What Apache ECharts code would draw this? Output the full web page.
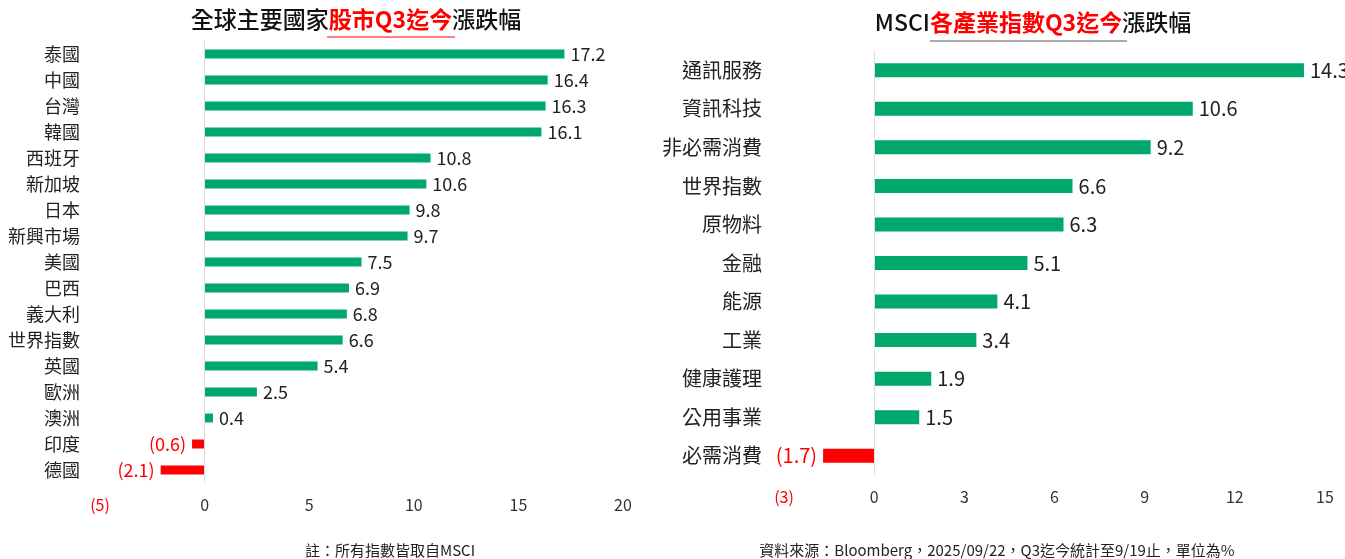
<!DOCTYPE html>
<html>
<head>
<meta charset="utf-8">
<script src="https://cdn.jsdelivr.net/npm/echarts@6/dist/echarts.min.js"></script>
<style>body{margin:0}#c{width:1345px;height:559px}</style>
</head>
<body>
<div id="c"></div>
<script>
// 左：全球主要國家
var countryNames = ['泰國','中國','台灣','韓國','西班牙','新加坡','日本','新興市場','美國','巴西','義大利','世界指數','英國','歐洲','澳洲','印度','德國'];
var countryValues = [17.2,16.4,16.3,16.1,10.8,10.6,9.8,9.7,7.5,6.9,6.8,6.6,5.4,2.5,0.4,-0.6,-2.1];
// 右：MSCI 產業
var sectorNames = ['通訊服務','資訊科技','非必需消費','世界指數','原物料','金融','能源','工業','健康護理','公用事業','必需消費'];
var sectorValues = [14.3,10.6,9.2,6.6,6.3,5.1,4.1,3.4,1.9,1.5,-1.7];

var GREEN = '#00a86b', RED = '#ff0000';
var font = '"Noto Sans CJK TC", "Noto Sans", sans-serif';

function fmt(v){ return v < 0 ? '(' + Math.abs(v).toFixed(1) + ')' : v.toFixed(1); }

function barData(vals, fs){
    return vals.map(function(v){
        return {
            value: v,
            itemStyle: {color: v < 0 ? RED : GREEN},
            label: {show: true, position: v < 0 ? 'left' : 'right', distance: 6,
                color: v < 0 ? RED : '#222', fontSize: fs, fontFamily: font,
                formatter: function(p){ return fmt(p.value); }}
        };
    });
}

function xAx(idx, min, max, interval){
    return {
        gridIndex: idx, type: 'value', min: min, max: max, interval: interval,
        splitLine: {show: false}, axisLine: {show: false}, axisTick: {show: false},
        axisLabel: {fontSize: 16, fontFamily: font, margin: 14,
            color: function(v){ return v < 0 ? RED : '#333'; },
            formatter: function(v){ return v < 0 ? '(' + Math.abs(v) + ')' : v; }}
    };
}
function yAx(idx, names, margin, fs){
    return {
        gridIndex: idx, type: 'category', data: names, inverse: true,
        axisLine: {show: false}, axisTick: {show: false},
        axisLabel: {fontSize: fs, fontFamily: font, color: '#222', margin: margin}
    };
}

var chart = echarts.init(document.getElementById('c'));
chart.setOption({
    animation: false,
    grid: [
        {left: 100, right: 722, top: 41, bottom: 76},
        {left: 784, right: 20, top: 51, bottom: 84}
    ],
    xAxis: [xAx(0, -5, 20, 5), xAx(1, -3, 15, 3)],
    yAxis: [yAx(0, countryNames, 20, 18), yAx(1, sectorNames, 22, 20)],
    series: [
        {type: 'bar', xAxisIndex: 0, yAxisIndex: 0, barWidth: 9, data: barData(countryValues, 18),
         markLine: {silent: true, symbol: 'none', label: {show: false},
            lineStyle: {color: '#ddd', type: 'solid', width: 1}, data: [{xAxis: 0}]}},
        {type: 'bar', xAxisIndex: 1, yAxisIndex: 1, barWidth: 14, data: barData(sectorValues, 20),
         markLine: {silent: true, symbol: 'none', label: {show: false},
            lineStyle: {color: '#ddd', type: 'solid', width: 1}, data: [{xAxis: 0}]}}
    ],
    graphic: [
        {type: 'text', x: 356, y: 19, style: {text: '{a|全球主要國家}{b|股市Q3迄今}{a|漲跌幅}', align: 'center', verticalAlign: 'middle',
            rich: {a: {fontSize: 23, fontWeight: 500, fontFamily: font, fill: '#111'},
                   b: {fontSize: 23, fontWeight: 'bold', fontFamily: font, fill: RED}}}},
        {type: 'line', shape: {x1: 327, y1: 37, x2: 455, y2: 37}, style: {stroke: RED, lineWidth: 1}},
        {type: 'text', x: 1033, y: 22, style: {text: '{a|MSCI}{b|各產業指數Q3迄今}{a|漲跌幅}', align: 'center', verticalAlign: 'middle',
            rich: {a: {fontSize: 23, fontWeight: 500, fontFamily: font, fill: '#111'},
                   b: {fontSize: 23, fontWeight: 'bold', fontFamily: font, fill: RED}}}},
        {type: 'line', shape: {x1: 930, y1: 41, x2: 1127, y2: 41}, style: {stroke: '#555', lineWidth: 1}},
        {type: 'text', x: 390, y: 550, style: {text: '註：所有指數皆取自MSCI', align: 'center', verticalAlign: 'middle', fontSize: 15, fontFamily: font, fill: '#222'}},
        {type: 'text', x: 997, y: 550, style: {text: '資料來源：Bloomberg，2025/09/22，Q3迄今統計至9/19止，單位為%', align: 'center', verticalAlign: 'middle', fontSize: 15, fontFamily: font, fill: '#222'}}
    ]
});
</script>
</body>
</html>
